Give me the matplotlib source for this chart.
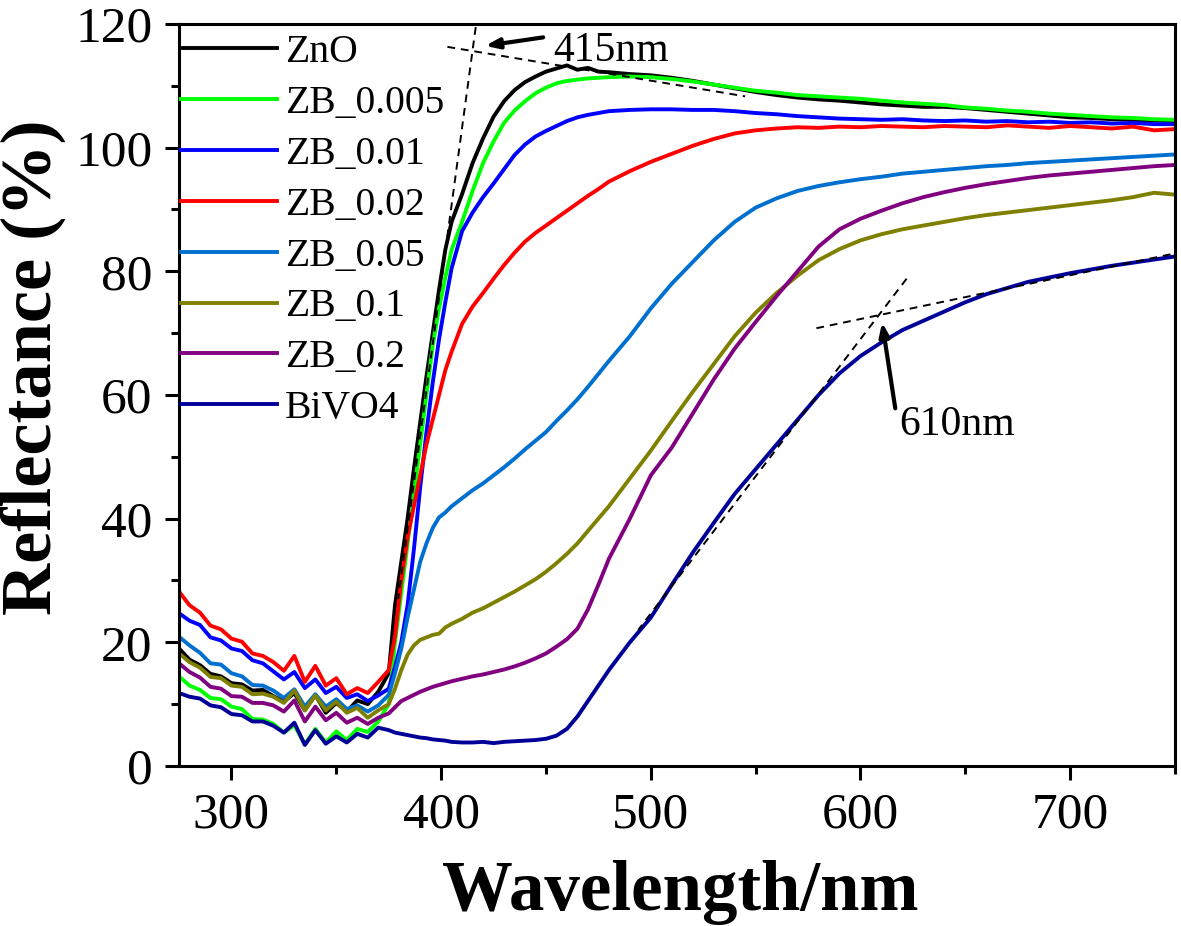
import matplotlib
matplotlib.use("Agg")
import matplotlib.pyplot as plt
from matplotlib.ticker import MultipleLocator

plt.rcParams['font.family'] = ['Liberation Serif', 'DejaVu Serif']

# wavelength grid (nm)
wl = [275, 280, 285, 290, 295, 300, 305, 310, 315, 320, 325, 330, 335, 340, 345,
      350, 355, 360, 365, 370, 375,
      378, 381, 384, 387, 390, 393, 396, 399, 402, 405,
      410, 415, 420, 425, 430, 435, 440, 445, 450, 455, 460, 465, 470, 475, 480,
      490, 500,
      510, 520, 530, 540, 550, 560, 570, 580, 590, 600, 610, 620, 630, 640, 650,
      660, 670, 680, 690, 700, 710, 720, 730, 740, 750]

zno = [19.0, 17.2, 16.3, 14.9, 14.5, 13.4, 13.2, 12.2, 12.3, 11.3, 10.4, 11.8, 9.0, 11.5, 8.6,
       10.2, 8.8, 10.6, 10.0, 12.0, 15.0,
       26.0, 33.0, 40.0, 48.0, 55.5, 63.0, 70.0, 77.0, 83.5, 88.0,
       92.5, 97.5, 101.5, 105.0, 107.5, 109.3, 110.6, 111.5, 112.3, 112.8, 113.3, 112.6, 112.9, 112.3, 112.2,
       111.9, 111.7,
       111.3, 110.8, 110.2, 109.6, 109.0, 108.5, 108.1, 107.8, 107.6, 107.3, 107.0, 106.8, 106.6, 106.6, 106.4,
       106.1, 105.8, 105.5, 105.2, 104.9, 104.8, 104.6, 104.5, 104.4, 104.3]

zb_0005 = [14.5, 13.0, 12.3, 11.0, 10.8, 9.6, 9.2, 7.6, 7.5, 6.8, 5.4, 6.6, 3.5, 6.0, 3.8,
           5.6, 4.2, 6.0, 5.5, 7.2, 10.0,
           20.0, 28.0, 36.0, 44.0, 52.0, 60.0, 68.0, 74.0, 79.0, 83.5,
           88.0, 93.0, 97.5, 101.0, 104.0, 106.0, 107.5, 108.8, 109.7, 110.4, 110.8, 111.0, 111.2, 111.3, 111.4,
           111.5, 111.4,
           111.1, 110.7, 110.2, 109.7, 109.2, 108.9, 108.5, 108.3, 108.1, 107.9, 107.6, 107.3, 107.1, 106.9, 106.5,
           106.3, 106.0, 105.8, 105.5, 105.3, 105.1, 104.9, 104.8, 104.6, 104.5]

zb_001 = [24.7, 23.5, 22.8, 20.8, 20.3, 19.0, 18.6, 17.1, 16.6, 15.3, 14.0, 15.2, 12.6, 14.0, 11.8,
          12.8, 11.0, 11.6, 10.5, 11.4, 12.5,
          16.0, 20.0, 26.0, 35.0, 45.0, 54.0, 62.0, 69.0, 75.0, 80.5,
          86.5, 89.5, 92.0, 94.2, 96.5, 98.8, 100.5, 101.8, 102.7, 103.5, 104.3, 104.9, 105.3, 105.6, 105.9,
          106.1, 106.2,
          106.2, 106.1, 106.1, 105.9, 105.6, 105.4, 105.1, 104.9, 104.7, 104.6, 104.5, 104.6, 104.4, 104.3, 104.4,
          104.2, 104.3, 104.1, 104.2, 104.0, 104.1, 103.9, 104.0, 103.8, 103.8]

zb_002 = [28.2, 26.0, 24.8, 22.7, 22.1, 20.6, 20.1, 18.2, 17.8, 16.8, 15.4, 17.8, 13.6, 16.2, 13.0,
          14.2, 11.6, 12.6, 11.8, 13.6, 15.5,
          21.0, 30.0, 37.0, 42.0, 47.0, 52.0, 56.0, 60.0, 64.0, 67.0,
          71.5, 74.3, 76.5, 78.8, 81.0, 83.0, 84.8, 86.2, 87.4, 88.6, 89.8, 91.0, 92.2, 93.3, 94.5,
          96.2, 97.7,
          99.0, 100.3, 101.4, 102.3, 102.8, 103.1, 103.3, 103.2, 103.4, 103.3, 103.5, 103.4, 103.3, 103.5, 103.4,
          103.3, 103.6, 103.4, 103.2, 103.5, 103.3, 103.1, 103.4, 102.8, 103.0]

zb_005 = [20.9, 19.5, 18.3, 16.6, 16.4, 15.0, 14.5, 13.1, 13.0, 12.2, 11.0, 12.4, 9.6, 11.6, 9.6,
          10.8, 9.2, 9.8, 8.8, 9.8, 11.5,
          15.0, 19.0, 24.0, 28.5, 33.0, 36.0, 38.5, 40.2, 41.0, 42.0,
          43.3, 44.6, 45.7, 47.0, 48.3, 49.7, 51.2, 52.6, 54.0, 55.8, 57.5, 59.3, 61.3, 63.4, 65.5,
          69.5, 74.0,
          78.0, 81.5, 85.0, 88.0, 90.3, 91.8, 93.0, 93.8, 94.4, 94.9, 95.3, 95.8, 96.1, 96.4, 96.7,
          97.0, 97.2, 97.5, 97.7, 97.9, 98.1, 98.3, 98.5, 98.7, 98.9]

zb_01 = [18.2, 16.8, 15.9, 14.4, 14.2, 13.0, 12.8, 11.6, 11.7, 11.2, 10.2, 12.2, 9.0, 11.4, 9.0,
         10.4, 8.6, 9.4, 7.8, 9.0, 10.0,
         12.5, 15.5, 18.0, 19.5, 20.4, 20.8, 21.2, 21.4, 22.4, 23.0,
         23.8, 24.8, 25.5, 26.4, 27.3, 28.2, 29.2, 30.2, 31.4, 32.8, 34.3, 36.0, 38.0, 40.0, 42.0,
         46.5, 51.0,
         55.8, 60.5, 65.0, 69.5, 73.3, 76.5, 79.3, 81.8, 83.6, 85.0, 86.0, 86.8, 87.4, 88.0, 88.6,
         89.1, 89.5, 89.9, 90.3, 90.7, 91.1, 91.5, 92.0, 92.7, 92.4]

zb_02 = [16.6, 15.2, 14.3, 12.8, 12.5, 11.3, 11.2, 10.2, 10.2, 9.8, 8.8, 10.6, 7.2, 9.6, 7.4,
         8.6, 7.0, 7.8, 6.8, 7.8, 8.5,
         9.5, 10.5, 11.0, 11.5, 12.0, 12.4, 12.8, 13.1, 13.4, 13.7,
         14.1, 14.5, 14.8, 15.2, 15.6, 16.1, 16.7, 17.4, 18.2, 19.3, 20.5, 22.2, 25.3, 29.3, 33.5,
         40.0, 47.0,
         51.5, 57.0, 62.5, 67.5, 71.8, 76.0, 80.0, 84.0, 86.8, 88.5, 89.8, 91.0, 92.0, 92.8, 93.5,
         94.1, 94.6, 95.1, 95.5, 95.8, 96.1, 96.4, 96.7, 97.0, 97.2]

bivo4 = [11.8, 11.2, 10.9, 9.8, 9.5, 8.4, 8.2, 7.2, 7.2, 6.5, 5.4, 7.0, 3.4, 5.8, 3.6,
         4.8, 3.8, 5.2, 4.6, 6.2, 5.8,
         5.4, 5.2, 5.0, 4.8, 4.6, 4.5, 4.3, 4.2, 4.1, 3.9,
         3.8, 3.8, 3.9, 3.7, 3.9, 4.0, 4.1, 4.2, 4.4, 4.9, 6.0, 8.0, 10.5, 13.0, 15.5,
         20.0, 24.0,
         29.3, 34.5, 39.3, 44.0, 48.0, 52.0, 56.0, 60.0, 63.5, 66.3, 68.5, 70.5, 72.0, 73.5, 75.0,
         76.3, 77.3, 78.3, 79.0, 79.7, 80.3, 80.9, 81.4, 81.9, 82.4]

labels = ['ZnO', 'ZB_0.005', 'ZB_0.01', 'ZB_0.02', 'ZB_0.05', 'ZB_0.1', 'ZB_0.2', 'BiVO4']
series = [zno, zb_0005, zb_001, zb_002, zb_005, zb_01, zb_02, bivo4]
colors = ['#000000', '#00ff00', '#0000ff', '#ff0000', '#0070d0', '#808000', '#800080', '#000099']

# tangent lines used for the band edge (wavelength, reflectance)
tan_415a = ([416.5, 379.5], [119.5, 27.0])
tan_415b = ([403.0, 545.0], [116.3, 108.3])
tan_610a = ([622.0, 494.0], [78.8, 22.0])
tan_610b = ([579.0, 750.0], [70.8, 82.9])

fig = plt.figure(figsize=(11.81, 9.26), dpi=100)
ax = fig.add_axes([0.1516, 0.1728, 0.8433, 0.8013])

for y, lab, c in zip(series, labels, colors):
    ax.plot(wl, y, color=c, lw=2.8, label=lab)

for xs, ys in (tan_415a, tan_415b, tan_610a, tan_610b):
    ax.plot(xs, ys, color='black', lw=1.4, ls=(0, (4, 3)), zorder=5)

ax.annotate('', xy=(419.7, 116.4), xytext=(450.0, 117.9),
            arrowprops=dict(arrowstyle='-|>,head_length=0.8,head_width=0.3', color='black', lw=3))
ax.text(453.5, 114.0, '415nm', fontsize=30, ha='left', va='baseline')
ax.annotate('', xy=(610.1, 72.2), xytext=(616.8, 57.4),
            arrowprops=dict(arrowstyle='-|>,head_length=0.8,head_width=0.3', color='black', lw=3))
ax.text(618.6, 53.6, '610nm', fontsize=30, ha='left', va='baseline')

ax.set_xlim(275, 750)
ax.set_ylim(0, 120)
ax.xaxis.set_major_locator(MultipleLocator(100))
ax.xaxis.set_minor_locator(MultipleLocator(50))
ax.yaxis.set_major_locator(MultipleLocator(20))
ax.yaxis.set_minor_locator(MultipleLocator(10))
ax.tick_params(which='both', direction='out', width=2.2, top=False, right=False)
ax.tick_params(which='major', length=10, labelsize=37, pad=9)
ax.tick_params(which='minor', length=5.5)
for s in ax.spines.values():
    s.set_linewidth(2.2)

ax.legend(loc='upper left', bbox_to_anchor=(0, 0.989), frameon=False, fontsize=28.5,
          borderaxespad=0, borderpad=0.05, handlelength=2.42, handletextpad=0.2,
          labelspacing=0.35)

fig.text(0.028, 0.603, 'Reflectance (%)', rotation=90, fontsize=52, fontweight='bold',
         ha='center', va='center')
fig.text(0.5758, 0.0173, 'Wavelength/nm', fontsize=51, fontweight='bold',
         ha='center', va='baseline')

fig.savefig('out.png', dpi=100)
